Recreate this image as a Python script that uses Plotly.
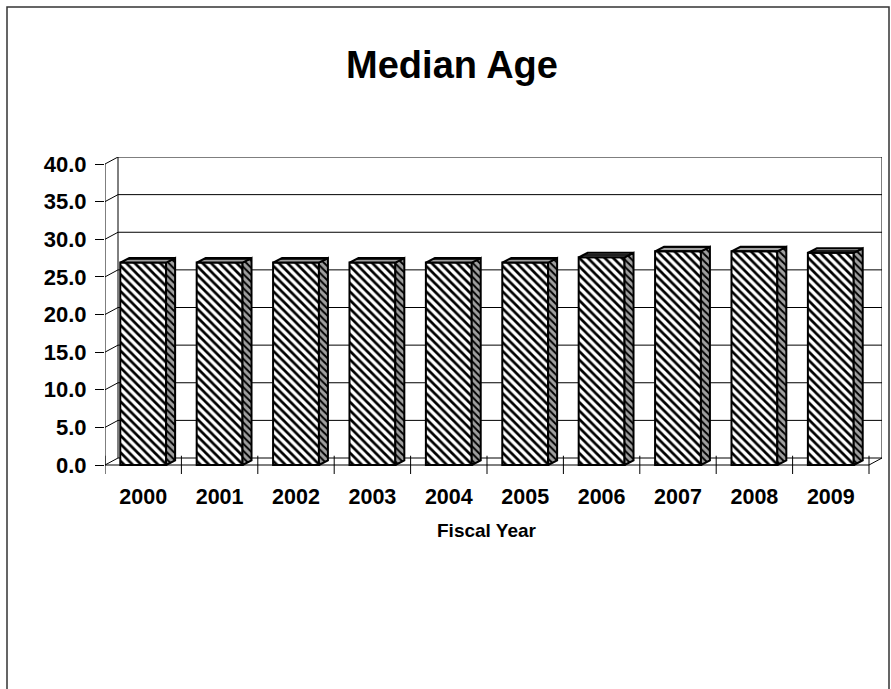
import plotly.graph_objects as go

# ---- data ----
years = ["2000", "2001", "2002", "2003", "2004", "2005", "2006", "2007", "2008", "2009"]
median_age = [26.9, 26.9, 26.9, 26.9, 26.9, 26.9, 27.6, 28.4, 28.4, 28.2]
y_tick_vals = [0, 5, 10, 15, 20, 25, 30, 35, 40]
y_tick_text = ["0.0", "5.0", "10.0", "15.0", "20.0", "25.0", "30.0", "35.0", "40.0"]
title_text = "Median Age"
x_title = "Fiscal Year"

# ---- layout geometry ----
W, H = 891, 689
L, R, T, B = 105, 9, 157, 215
plot_w = W - L - R
plot_h = H - T - B
PXX = 76.4          # px per category
PXY = 7.525         # px per y unit
X_MIN = -0.5
X_MAX = X_MIN + plot_w / PXX
Y_MIN = -9 / PXY
Y_MAX = Y_MIN + plot_h / PXY

# 3D depth offsets
dxw, dyw = 13 / PXX, 7 / PXY      # wall depth
bdx, bdy = 9 / PXX, 4.5 / PXY     # bar depth
hw = 0.3                          # half bar width

xs = list(range(len(years)))
n = len(years)
left_edge = -0.5
right_edge = n - 0.5

FONT = "Liberation Sans, Arial, sans-serif"

fig = go.Figure()

fig.add_trace(go.Bar(
    x=xs, y=median_age, width=2 * hw,
    marker=dict(color="white",
                line=dict(color="black", width=2),
                pattern=dict(shape="\\", fgcolor="black", bgcolor="white",
                             size=6, solidity=0.45, fillmode="replace")),
    showlegend=False, hoverinfo="skip",
))

# side and top faces
sx, sy = [], []
tx, ty = [], []
for i, v in zip(xs, median_age):
    sx += [i + hw, i + hw + bdx, i + hw + bdx, i + hw, i + hw, None]
    sy += [0, bdy, v + bdy, v, 0, None]
    tx += [i - hw, i - hw + bdx, i + hw + bdx, i + hw, i - hw, None]
    ty += [v, v + bdy, v + bdy, v, v, None]

fig.add_trace(go.Scatter(
    x=sx, y=sy, mode="lines", fill="toself",
    line=dict(color="black", width=2),
    fillcolor="#808080",
    fillpattern=dict(shape="\\", fgcolor="black", bgcolor="#a0a0a0",
                     size=5, solidity=0.4, fillmode="replace"),
    showlegend=False, hoverinfo="skip",
))
fig.add_trace(go.Scatter(
    x=tx, y=ty, mode="lines", fill="toself",
    line=dict(color="black", width=2),
    fillcolor="#808080",
    fillpattern=dict(shape="-", fgcolor="black", bgcolor="#a0a0a0",
                     size=4, solidity=0.4, fillmode="replace"),
    showlegend=False, hoverinfo="skip",
))

shapes = []
line_style = dict(color="black", width=1)
for v in y_tick_vals:
    shapes.append(dict(type="line", xref="x", yref="y", layer="below",
                       x0=left_edge + dxw, x1=right_edge + dxw,
                       y0=v + dyw, y1=v + dyw, line=line_style))
    shapes.append(dict(type="line", xref="x", yref="y", layer="below",
                       x0=left_edge, x1=left_edge + dxw,
                       y0=v, y1=v + dyw, line=line_style))
for xv in (left_edge + dxw, right_edge + dxw):
    shapes.append(dict(type="line", xref="x", yref="y", layer="below",
                       x0=xv, x1=xv, y0=dyw, y1=y_tick_vals[-1] + dyw,
                       line=line_style))
shapes.append(dict(type="line", xref="x", yref="y", layer="below",
                   x0=left_edge, x1=left_edge, y0=0, y1=y_tick_vals[-1],
                   line=line_style))
shapes.append(dict(type="line", xref="x", yref="y", layer="below",
                   x0=left_edge, x1=right_edge, y0=0, y1=0, line=line_style))
shapes.append(dict(type="line", xref="x", yref="y", layer="below",
                   x0=right_edge, x1=right_edge + dxw, y0=0, y1=dyw,
                   line=line_style))
for k in range(n + 1):
    xb = left_edge + k
    shapes.append(dict(type="line", xref="x", yref="y", layer="below",
                       x0=xb, x1=xb, y0=Y_MIN, y1=dyw + 0.3,
                       line=line_style))
# outer frame
shapes.append(dict(type="rect", xref="paper", yref="paper",
                   x0=(7 - L) / plot_w, x1=(889 - L) / plot_w,
                   y0=(H - B - 720) / plot_h, y1=(H - B - 7) / plot_h,
                   line=dict(color="#333333", width=1.5), fillcolor="rgba(0,0,0,0)",
                   layer="below"))

fig.update_layout(
    width=W, height=H,
    margin=dict(l=L, r=R, t=T, b=B, pad=0),
    paper_bgcolor="white", plot_bgcolor="white",
    shapes=shapes,
    title=dict(text=title_text, x=452 / W, xanchor="center",
               y=1 - 65 / H, yanchor="middle",
               font=dict(family=FONT, size=38, color="black", weight="bold")),
    annotations=[dict(text=x_title, xref="paper", yref="paper",
                      x=(486.5 - L) / plot_w, y=(H - B - 530) / plot_h,
                      xanchor="center", yanchor="middle", showarrow=False,
                      font=dict(family=FONT, size=19, color="black", weight="bold"))],
)
fig.update_xaxes(range=[X_MIN, X_MAX], tickvals=xs, ticktext=years,
                 showgrid=False, zeroline=False, showline=False,
                 ticks="", ticklabelstandoff=7,
                 tickfont=dict(family=FONT, size=21.5, color="black", weight="bold"),
                 fixedrange=True)
fig.update_yaxes(range=[Y_MIN, Y_MAX], tickvals=y_tick_vals, ticktext=y_tick_text,
                 showgrid=False, zeroline=False, showline=False,
                 ticks="outside", ticklen=9, tickwidth=1, tickcolor="black",
                 ticklabelstandoff=4,
                 tickfont=dict(family=FONT, size=22, color="black", weight="bold"),
                 fixedrange=True)

fig.write_html("out.html", config={"displayModeBar": False},
               post_script="document.body.style.margin='0';")
